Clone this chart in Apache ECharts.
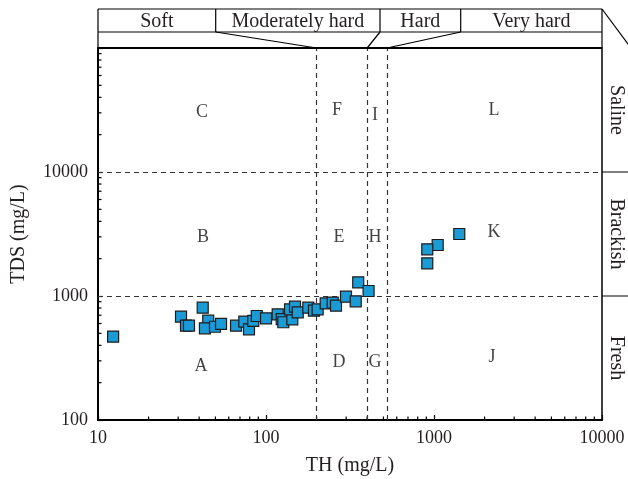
<!DOCTYPE html>
<html>
<head>
<meta charset="utf-8">
<script src="https://cdn.jsdelivr.net/npm/echarts@6/dist/echarts.min.js"></script>
<style>html,body{margin:0;padding:0;background:#fff}#c{width:628px;height:479px}</style>
</head>
<body>
<div id="c"></div>
<script>
// Data (TH mg/L, TDS mg/L)
const thValues = [12.3, 31.2, 33.4, 34.8, 42.0, 45.3, 43.3, 49.7, 54.0, 66.3, 74.3, 79.2, 84.0, 88.1, 100, 117.4, 124, 126.8, 143.4, 139, 148.8, 154.5, 178.6, 193, 203, 226.6, 249.5, 261, 299.3, 342, 354, 408, 1414, 1052, 912, 912];
const tdsValues = [470, 681, 576, 576, 805, 632, 549, 565, 595, 576, 621, 539, 629, 690, 661, 712, 652, 614, 649, 781, 820, 739, 805, 761, 781, 873, 883, 835, 987, 906, 1290, 1097, 3162, 2578, 2381, 1835];

// Zone letters
const zoneNames = ['A','B','C','D','E','F','G','H','I','J','K','L'];
const zoneTH = [41, 42.2, 41.6, 272, 272, 264.6, 445, 445, 445, 2213, 2276, 2276];
const zoneTDS = [272, 2992, 30470, 294, 2992, 31620, 294, 2992, 28840, 322, 3282, 31620];

// Boundaries
const hardnessBounds = [200, 400, 525];
const salinityBounds = [1000, 10000];
const hardnessLabels = ['Soft', 'Moderately hard', 'Hard', 'Very hard'];
const salinityLabels = ['Saline', 'Brackish', 'Fresh'];

// Axis ticks
const xTickLabels = [10, 100, 1000, 10000];
const yTickLabels = [100, 1000, 10000];
const xMinorTicks = [20,30,40,50,60,70,80,90,200,300,400,500,600,700,800,900,2000,3000,4000,5000,6000,7000,8000,9000];
const yMinorTicks = [200,300,400,500,600,700,800,900,2000,3000,4000,5000,6000,7000,8000,9000,20000,30000,40000,50000,60000,70000,80000,90000];

const FONT = 'Liberation Serif';
const TXT = '#231f20';

const chart = echarts.init(document.getElementById('c'));
const pts = thValues.map((v, i) => [v, tdsValues[i]]);
const zones = zoneNames.map((n, i) => ({ name: n, value: [zoneTH[i], zoneTDS[i]] }));

const option = {
  animation: false,
  grid: { left: 98, right: 26, top: 48, bottom: 59, show: true, borderColor: '#000', borderWidth: 1.5,
    containLabel: false, outerBoundsMode: 'none' },
  xAxis: {
    type: 'log', logBase: 10, min: 10, max: 10000,
    name: 'TH (mg/L)', nameLocation: 'middle', nameGap: 36,
    nameTextStyle: { fontFamily: FONT, fontSize: 20, color: TXT },
    axisLine: { lineStyle: { color: '#000', width: 2 } },
    axisTick: { inside: true, length: 5, lineStyle: { color: '#000', width: 1.2 } },
    axisLabel: { fontFamily: FONT, fontSize: 18, color: TXT, margin: 9,
      formatter: v => xTickLabels.indexOf(v) >= 0 ? String(v) : '' },
    splitLine: { show: false }
  },
  yAxis: {
    type: 'log', logBase: 10, min: 100, max: 100000,
    name: 'TDS (mg/L)', nameLocation: 'middle', nameGap: 69,
    nameTextStyle: { fontFamily: FONT, fontSize: 20, color: TXT },
    axisLine: { lineStyle: { color: '#000', width: 2 } },
    axisTick: { inside: true, length: 5, lineStyle: { color: '#000', width: 1.2 } },
    axisLabel: { fontFamily: FONT, fontSize: 18, color: TXT, margin: 10,
      formatter: v => yTickLabels.indexOf(v) >= 0 ? String(v) : '' },
    splitLine: { show: false }
  },
  series: [
    {
      type: 'custom', coordinateSystem: 'cartesian2d', silent: true, z: 3,
      data: xMinorTicks.map(v => [v, 100]),
      renderItem: (params, api) => {
        const p = api.coord([api.value(0), api.value(1)]);
        return { type: 'line', shape: { x1: p[0], y1: p[1], x2: p[0], y2: p[1] - 3.5 }, style: { stroke: '#000', lineWidth: 1.2 } };
      }
    },
    {
      type: 'custom', coordinateSystem: 'cartesian2d', silent: true, z: 3,
      data: yMinorTicks.map(v => [10, v]),
      renderItem: (params, api) => {
        const p = api.coord([api.value(0), api.value(1)]);
        return { type: 'line', shape: { x1: p[0], y1: p[1], x2: p[0] + 3.5, y2: p[1] }, style: { stroke: '#000', lineWidth: 1.2 } };
      }
    },
    {
      type: 'scatter', silent: true, z: 2,
      symbol: 'none', symbolSize: 0,
      data: [],
      markLine: {
        silent: true, symbol: 'none', label: { show: false },
        lineStyle: { type: [5, 4], color: '#333', width: 1.2 },
        data: hardnessBounds.map(v => ({ xAxis: v })).concat(salinityBounds.map(v => ({ yAxis: v })))
      }
    },
    {
      type: 'scatter', silent: true, z: 4,
      symbol: 'circle', symbolSize: 0,
      itemStyle: { color: 'rgba(0,0,0,0)' },
      data: zones,
      label: { show: true, position: 'inside', formatter: '{b}', fontFamily: FONT, fontSize: 18, color: '#111', textBorderWidth: 0 }
    },
    {
      type: 'scatter', z: 5,
      symbol: 'rect', symbolSize: 11,
      itemStyle: { color: '#1a9bd6', borderColor: '#1c1c1c', borderWidth: 1.2, opacity: 1 },
      data: pts
    }
  ]
};
chart.setOption(option);

// Header and right-hand column, positioned through the axes
const px = v => chart.convertToPixel({ xAxisIndex: 0 }, v);
const py = v => chart.convertToPixel({ yAxisIndex: 0 }, v);
const L = px(10), R = px(10000), T = py(100000), B = py(100);
const hTop = 9, hMid = 32;
const divX = [215.7, 380, 460.7];
const g = [];
const ln = (x1, y1, x2, y2, w) => g.push({ type: 'line', silent: true, z: 10, shape: { x1, y1, x2, y2 }, style: { stroke: '#000', lineWidth: w || 1.2 } });
ln(L, hTop, R, hTop, 1.2);
ln(L, hMid, R, hMid, 1.2);
ln(L, hTop, L, T, 1.2);
ln(R, hTop, R, T, 1.2);
ln(L, T, R, T, 2);
divX.forEach((x, i) => {
  ln(x, hTop, x, hMid, 1.2);
  ln(x, hMid, px(hardnessBounds[i]), T, 1.2);
});
ln(R, hTop, 640, 60, 1.2);
const bx = [L].concat(divX).concat([R]);
hardnessLabels.forEach((t, i) => {
  g.push({ type: 'text', silent: true, z: 10, x: (bx[i] + bx[i + 1]) / 2, y: (hTop + hMid) / 2 + 1,
    style: { text: t, font: '20px "' + FONT + '"', fill: TXT, align: 'center', verticalAlign: 'middle' } });
});
salinityBounds.forEach(v => ln(R, py(v), 640, py(v), 1.2));
const by = [T, py(10000), py(1000), B];
salinityLabels.forEach((t, i) => {
  g.push({ type: 'text', silent: true, z: 10, x: R + 14, y: (by[i] + by[i + 1]) / 2, rotation: -Math.PI / 2,
    style: { text: t, font: '20px "' + FONT + '"', fill: TXT, align: 'center', verticalAlign: 'middle' } });
});
chart.setOption({ graphic: g });
</script>
</body>
</html>
